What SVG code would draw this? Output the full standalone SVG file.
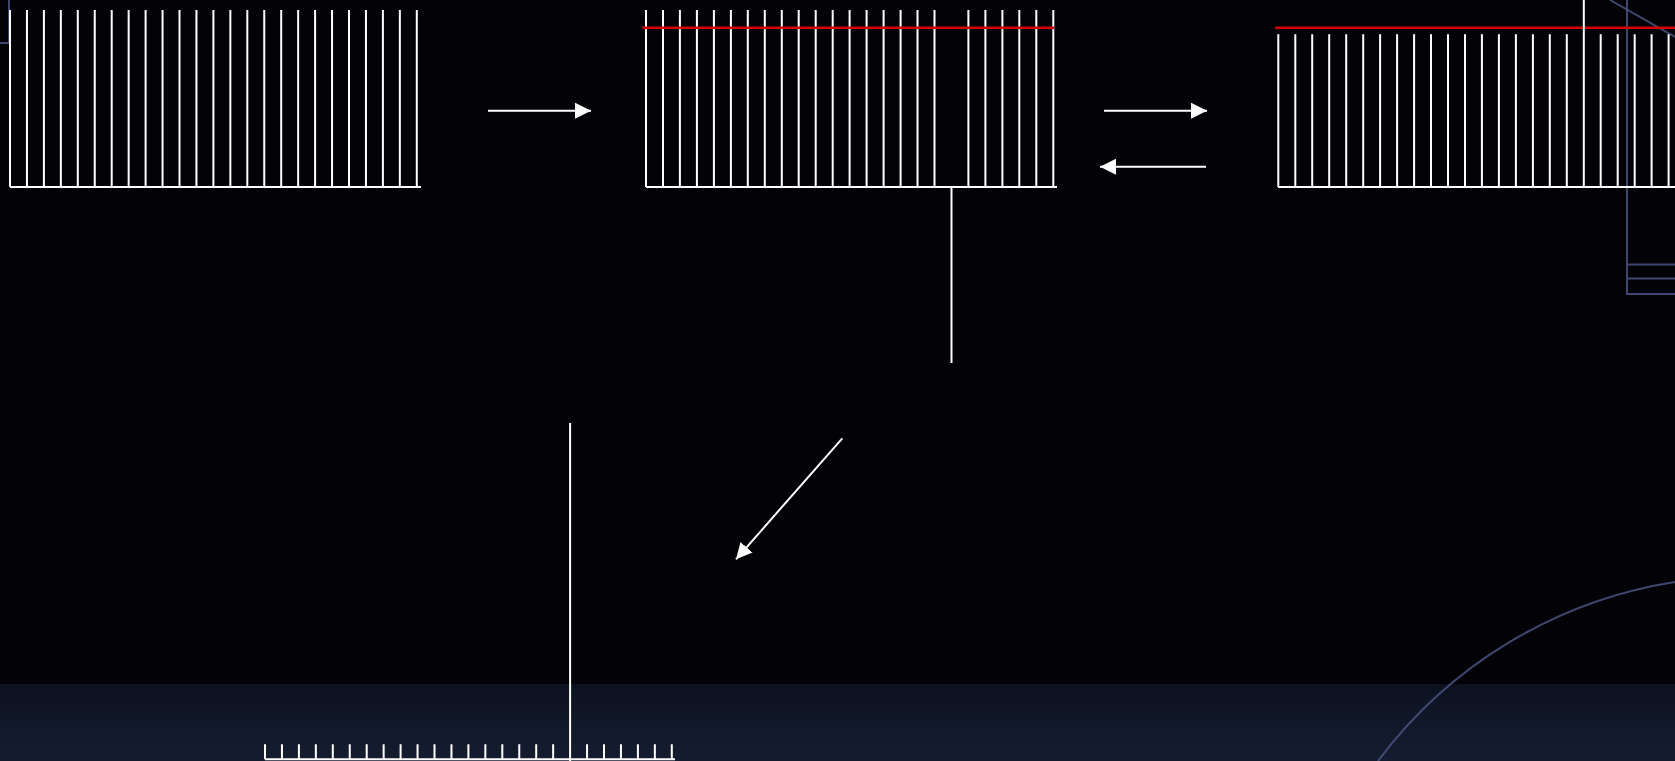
<svg xmlns="http://www.w3.org/2000/svg" width="1675" height="761" viewBox="0 0 1675 761">
<defs>
<linearGradient id="band" x1="0" y1="0" x2="0" y2="1">
<stop offset="0" stop-color="#0c111f"/>
<stop offset="0.5" stop-color="#111829"/>
<stop offset="1" stop-color="#141c2f"/>
</linearGradient>
<marker id="ah" viewBox="0 0 16 16" refX="16" refY="8" markerWidth="16" markerHeight="16" markerUnits="userSpaceOnUse" orient="auto">
<path d="M0 0L16 8L0 16Z" fill="#ffffff"/>
</marker>
<style>
.comb{fill:none;stroke:#ffffff;stroke-width:2}
.red{fill:none;stroke:#d40000;stroke-width:2.5}
.conn{fill:none;stroke:#ffffff;stroke-width:2}
.deco{fill:none;stroke:#4a5382;stroke-width:2;opacity:0.85}
</style>
</defs>
<rect x="0" y="0" width="1675" height="761" fill="#030307"/>
<rect x="0" y="684" width="1675" height="77" fill="url(#band)"/>
<g id="decoration">
<path class="deco" d="M9 0V43H0"/>
<path class="deco" d="M1627 0V294H1675M1627 264.5H1675M1627 278.5H1675"/>
<path class="deco" d="M1610 0L1675 37"/>
<path class="deco" d="M1378 761A460 460 0 0 1 1675 582"/>
</g>
<g id="comb-a">
<path class="comb" d="M10 10V187M26.95 10V187M43.9 10V187M60.85 10V187M77.8 10V187M94.75 10V187M111.7 10V187M128.65 10V187M145.6 10V187M162.55 10V187M179.5 10V187M196.45 10V187M213.4 10V187M230.35 10V187M247.3 10V187M264.25 10V187M281.2 10V187M298.15 10V187M315.1 10V187M332.05 10V187M349 10V187M365.95 10V187M382.9 10V187M399.85 10V187M416.8 10V187M10 187H421"/>
</g>
<g id="comb-b">
<path class="comb" d="M646 10V187M663 10V187M679.9 10V187M696.9 10V187M713.9 10V187M730.9 10V187M747.8 10V187M764.8 10V187M781.8 10V187M798.7 10V187M815.7 10V187M832.7 10V187M849.6 10V187M866.6 10V187M883.6 10V187M900.6 10V187M917.5 10V187M934.5 10V187M968.4 10V187M985.4 10V187M1002.4 10V187M1019.3 10V187M1036.3 10V187M1053.3 10V187M646 187H1057"/>
<path class="red" d="M642 27.7H1054"/>
</g>
<g id="comb-c">
<path class="comb" d="M1278.3 34.3V187M1295.3 34.3V187M1312.2 34.3V187M1329.2 34.3V187M1346.2 34.3V187M1363.2 34.3V187M1380.1 34.3V187M1397.1 34.3V187M1414.1 34.3V187M1431 34.3V187M1448 34.3V187M1465 34.3V187M1481.9 34.3V187M1498.9 34.3V187M1515.9 34.3V187M1532.9 34.3V187M1549.8 34.3V187M1566.8 34.3V187M1600.7 34.3V187M1617.7 34.3V187M1634.7 34.3V187M1651.6 34.3V187M1668.6 34.3V187M1278 187H1675"/>
<path class="red" d="M1275 27.7H1675"/>
</g>
<g id="comb-d">
<path class="comb" d="M265 744.3V759.3M281.95 744.3V759.3M298.9 744.3V759.3M315.85 744.3V759.3M332.8 744.3V759.3M349.75 744.3V759.3M366.7 744.3V759.3M383.65 744.3V759.3M400.6 744.3V759.3M417.55 744.3V759.3M434.5 744.3V759.3M451.45 744.3V759.3M468.4 744.3V759.3M485.35 744.3V759.3M502.3 744.3V759.3M519.25 744.3V759.3M536.2 744.3V759.3M553.15 744.3V759.3M587.05 744.3V759.3M604 744.3V759.3M620.95 744.3V759.3M637.9 744.3V759.3M654.85 744.3V759.3M671.8 744.3V759.3M265 759.3H675"/>
</g>
<g id="connectors">
<path class="conn" d="M1583.8 0V187"/>
<path class="conn" d="M951.5 187V363"/>
<path class="conn" d="M570.1 423V761"/>
<path class="conn" d="M488 110.7H591" marker-end="url(#ah)"/>
<path class="conn" d="M1104 110.7H1207" marker-end="url(#ah)"/>
<path class="conn" d="M1206 166.7H1100" marker-end="url(#ah)"/>
<path class="conn" d="M842.3 438.3L736 559.3" marker-end="url(#ah)"/>
</g>
</svg>
